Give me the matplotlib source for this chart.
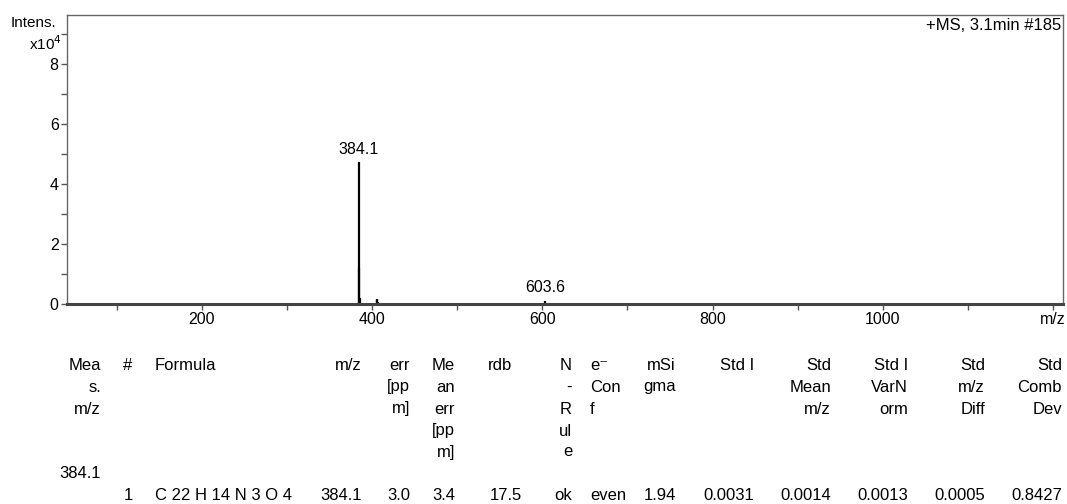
import matplotlib
matplotlib.use("Agg")
import matplotlib.pyplot as plt
from matplotlib.ticker import MultipleLocator, FixedLocator

plt.rcParams['font.family'] = ['Liberation Sans', 'DejaVu Sans']

# spectrum (m/z, intensity in counts)
peak_mz = [384.1, 385.1, 386.1, 405.1, 406.1, 407.1, 418.0, 603.6, 611.0, 767.0, 789.0]
peak_int = [47200, 12000, 2000, 1700, 1200, 800, 400, 1100, 300, 250, 350]
labelled_mz = [384.1, 603.6]
labelled_int = [47200, 1100]

y_ticks = [0, 20000, 40000, 60000, 80000]
y_ticklabels = ["0", "2", "4", "6", "8"]
x_ticks = [200, 400, 600, 800, 1000, 1200]
x_ticklabels = ["200", "400", "600", "800", "1000", "m/z"]

# result table
header_cols = [
    ["Mea", "s.", "m/z"], ["#"], ["Formula"], ["m/z"], ["err", "[pp", "m]"],
    ["Me", "an", "err", "[pp", "m]"], ["rdb"], ["N", "-", "R", "ul", "e"],
    ["e\u207b", "Con", "f"], ["mSi", "gma"], ["Std I"], ["Std", "Mean", "m/z"],
    ["Std I", "VarN", "orm"], ["Std", "m/z", "Diff"], ["Std", "Comb", "Dev"],
]
meas_mz = "384.1"
row_values = ["", "1", "C 22 H 14 N 3 O 4", "384.1", "3.0", "3.4", "17.5", "ok",
              "even", "1.94", "0.0031", "0.0014", "0.0013", "0.0005", "0.8427"]

W, H = 1067, 504
fig = plt.figure(figsize=(W / 100, H / 100), dpi=100)
ax = fig.add_axes([67 / W, 1 - 304 / H, (1063 - 67) / W, (304 - 15) / H])

ax.vlines(peak_mz, 0, peak_int, color="black", linewidth=1.6)
for mz, inten in zip(labelled_mz, labelled_int):
    ax.annotate(f"{mz:.1f}", (mz, inten), xytext=(0, 4), textcoords="offset points",
                ha="center", va="bottom", fontsize=11.5)

ax.set_xlim(41.4, 1211.8)
ax.set_ylim(0, 96300)
ax.xaxis.set_major_locator(FixedLocator(x_ticks))
ax.set_xticklabels(x_ticklabels)
ax.xaxis.set_minor_locator(MultipleLocator(100))
ax.yaxis.set_major_locator(FixedLocator(y_ticks))
ax.set_yticklabels(y_ticklabels)
ax.yaxis.set_minor_locator(MultipleLocator(10000))
ax.tick_params(which="both", direction="out", length=4, width=1, colors="#555555",
               labelcolor="black", labelsize=11.5, pad=2)
for s in ax.spines.values():
    s.set_color("#666666")
    s.set_linewidth(1.0)
ax.spines["bottom"].set_linewidth(2.2)
ax.spines["bottom"].set_color("#444444")

fig.text(56 / W, 1 - 23 / H, "Intens.", ha="right", va="center", fontsize=11)
fig.text(62 / W, 1 - 44 / H, "x10$^4$", ha="right", va="center", fontsize=11)
ax.text(0.998, 0.965, "+MS, 3.1min #185", transform=ax.transAxes, ha="right", va="center",
        fontsize=12)

# table layout: (x pixel, alignment)
col_pos = [(101, "right"), (128, "center"), (155, "left"), (362, "right"), (410, "right"),
           (455, "right"), (512, "right"), (572, "right"), (590, "left"), (676, "right"),
           (754, "right"), (831, "right"), (908, "right"), (985, "right"), (1062, "right")]
row_y = [365, 387, 409, 431, 452]
for (x, al), lines in zip(col_pos, header_cols):
    for y, t in zip(row_y, lines):
        fig.text(x / W, 1 - y / H, t, ha=al, va="center", fontsize=12)
fig.text(101 / W, 1 - 474 / H, meas_mz, ha="right", va="center", fontsize=12)
for (x, al), t in zip(col_pos, row_values):
    if t == "17.5":
        x += 10
    fig.text(x / W, 1 - 495 / H, t, ha=al, va="center", fontsize=12)

fig.savefig("out.png", dpi=100)
